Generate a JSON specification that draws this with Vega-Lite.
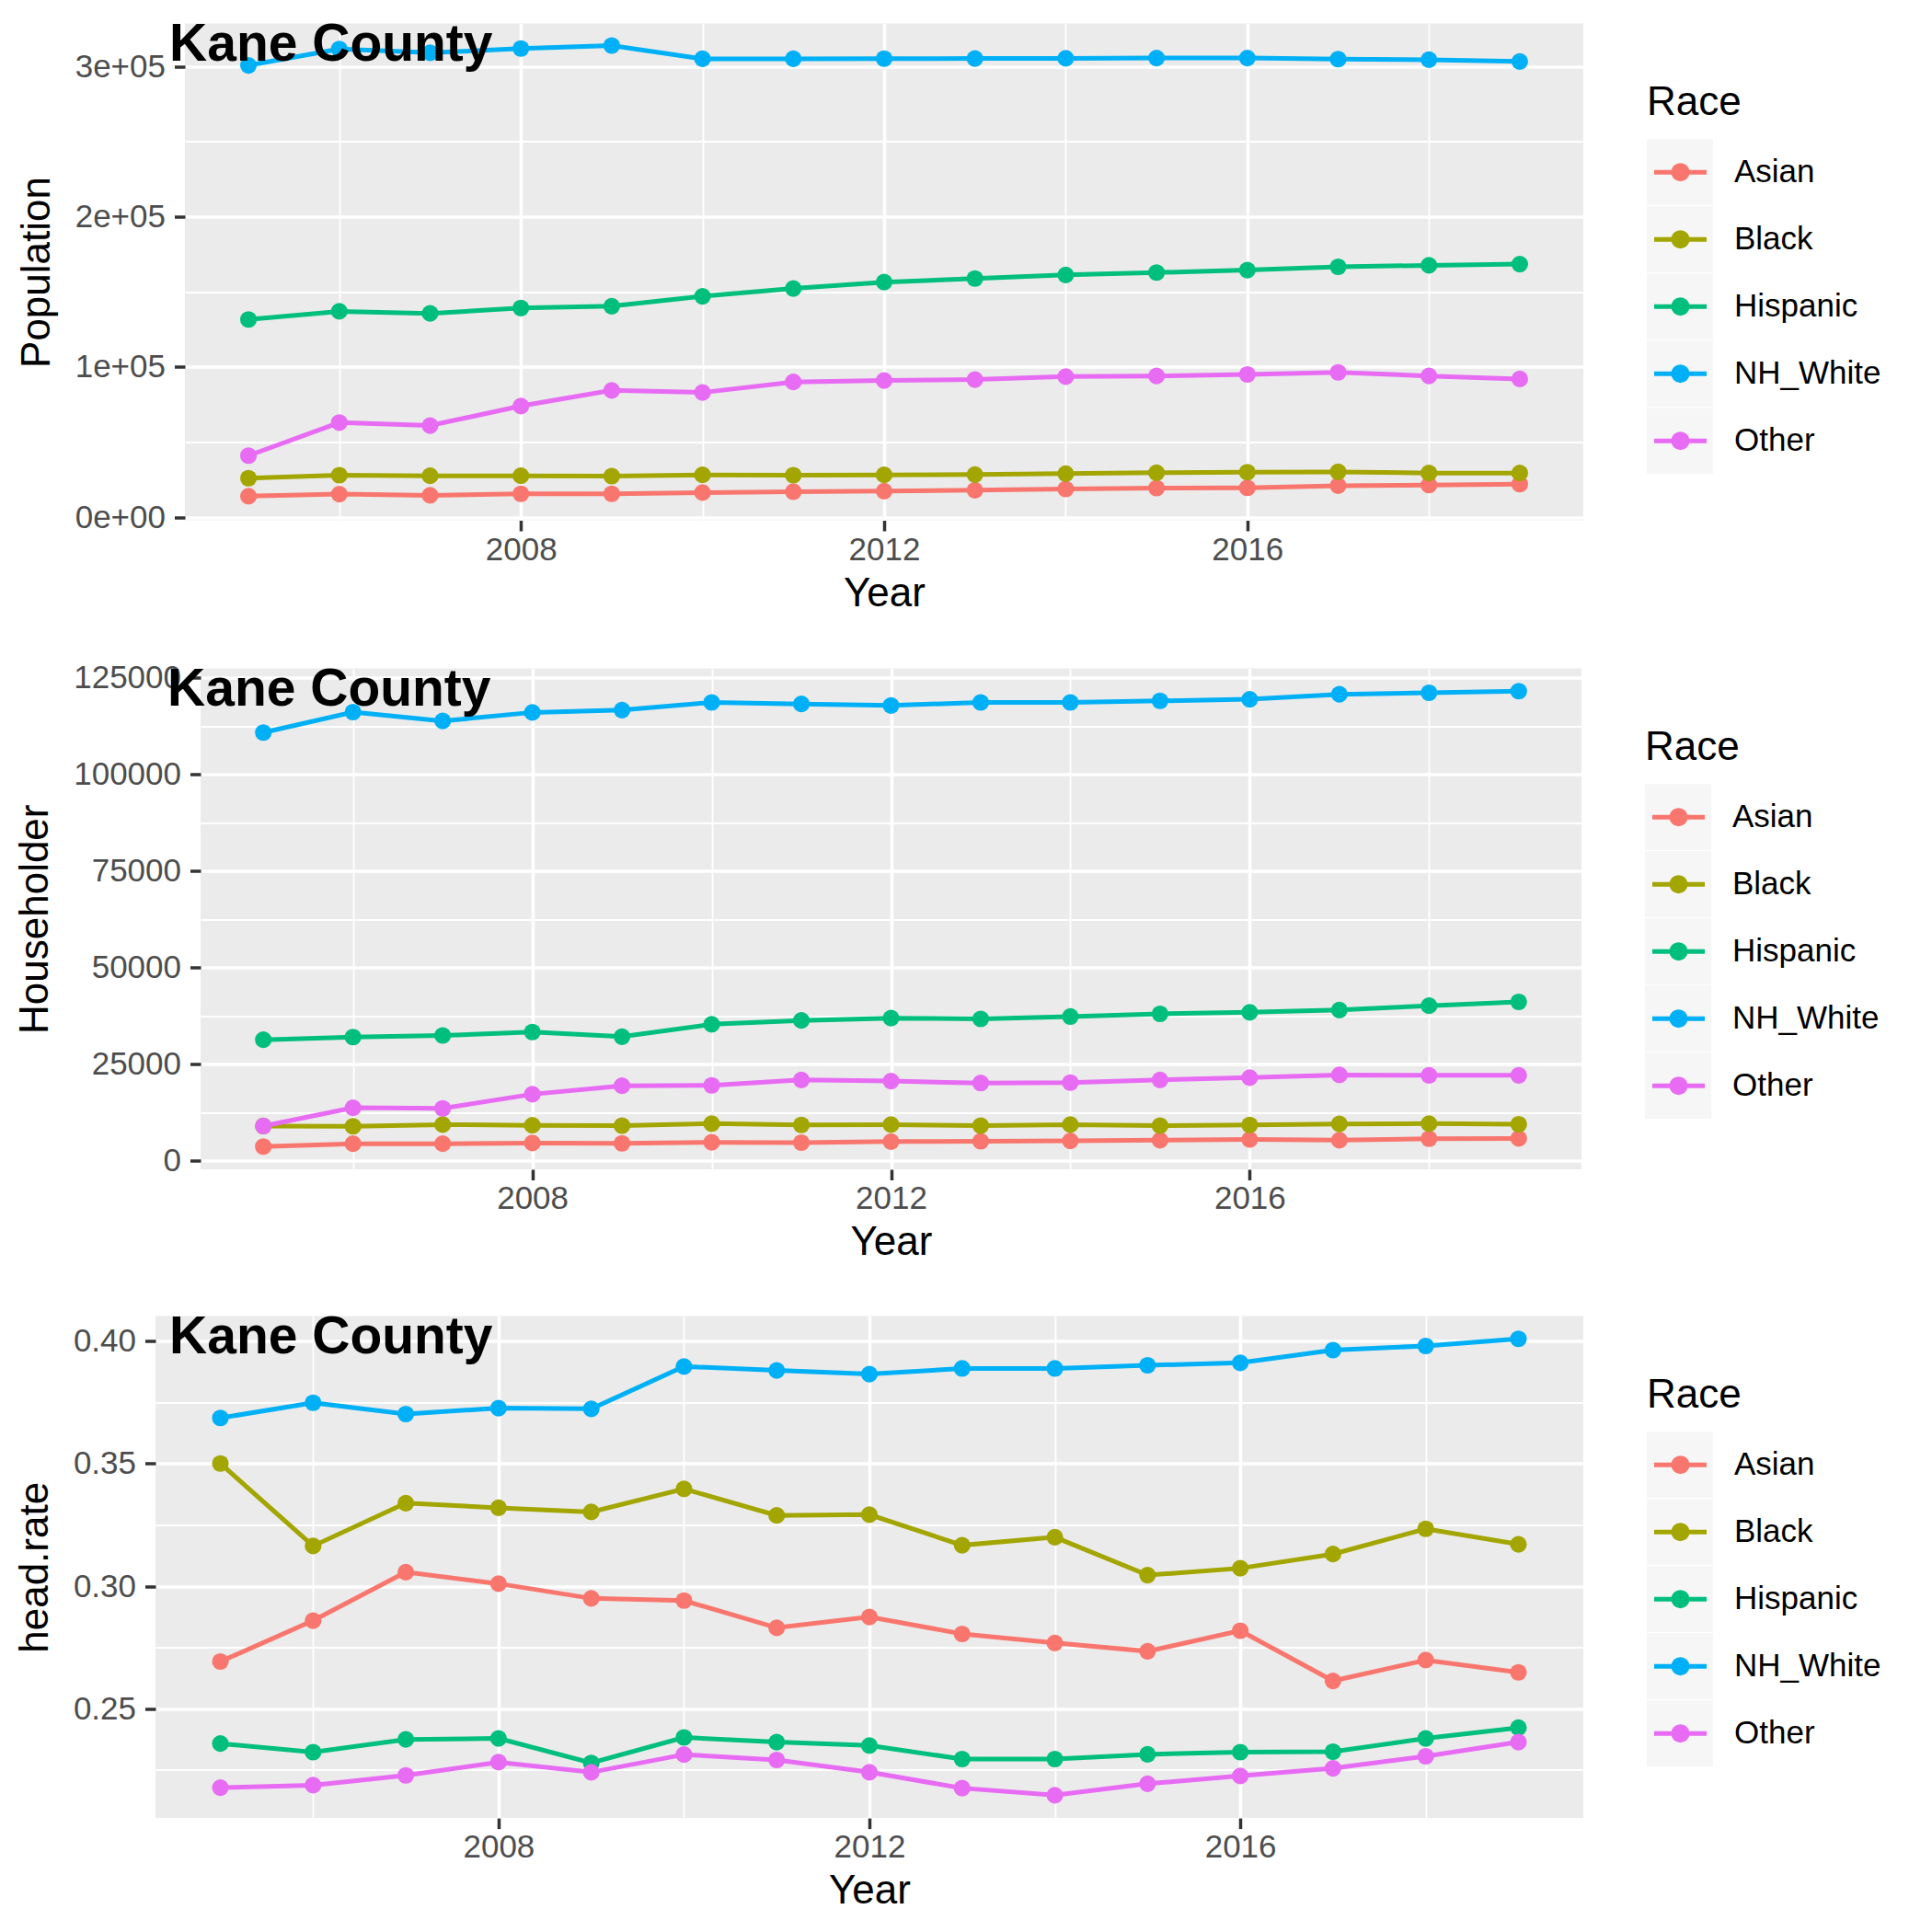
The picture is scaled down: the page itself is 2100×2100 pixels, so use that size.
{
  "$schema": "https://vega.github.io/schema/vega-lite/v6.json",
  "background": "white",
  "padding": {"left": 0, "top": 19.5, "right": 0, "bottom": 0},
  "spacing": 52,
  "datasets": {
    "kane": [
      {"Year": 2005, "Race": "Asian", "Population": 14000, "Householder": 3660, "HeadRate": 0.2692},
      {"Year": 2006, "Race": "Asian", "Population": 15400, "Householder": 4400, "HeadRate": 0.2859},
      {"Year": 2007, "Race": "Asian", "Population": 14600, "Householder": 4400, "HeadRate": 0.3057},
      {"Year": 2008, "Race": "Asian", "Population": 15600, "Householder": 4580, "HeadRate": 0.3010},
      {"Year": 2009, "Race": "Asian", "Population": 15600, "Householder": 4490, "HeadRate": 0.2950},
      {"Year": 2010, "Race": "Asian", "Population": 16400, "Householder": 4760, "HeadRate": 0.2941},
      {"Year": 2011, "Race": "Asian", "Population": 17000, "Householder": 4670, "HeadRate": 0.2830},
      {"Year": 2012, "Race": "Asian", "Population": 17400, "Householder": 4950, "HeadRate": 0.2874},
      {"Year": 2013, "Race": "Asian", "Population": 18000, "Householder": 5040, "HeadRate": 0.2805},
      {"Year": 2014, "Race": "Asian", "Population": 18800, "Householder": 5130, "HeadRate": 0.2768},
      {"Year": 2015, "Race": "Asian", "Population": 19400, "Householder": 5310, "HeadRate": 0.2734},
      {"Year": 2016, "Race": "Asian", "Population": 19600, "Householder": 5490, "HeadRate": 0.2818},
      {"Year": 2017, "Race": "Asian", "Population": 21000, "Householder": 5310, "HeadRate": 0.2613},
      {"Year": 2018, "Race": "Asian", "Population": 21400, "Householder": 5680, "HeadRate": 0.2698},
      {"Year": 2019, "Race": "Asian", "Population": 22000, "Householder": 5770, "HeadRate": 0.2648},
      {"Year": 2005, "Race": "Black", "Population": 26000, "Householder": 8970, "HeadRate": 0.3501},
      {"Year": 2006, "Race": "Black", "Population": 28000, "Householder": 8900, "HeadRate": 0.3164},
      {"Year": 2007, "Race": "Black", "Population": 27600, "Householder": 9340, "HeadRate": 0.3339},
      {"Year": 2008, "Race": "Black", "Population": 27600, "Householder": 9160, "HeadRate": 0.3320},
      {"Year": 2009, "Race": "Black", "Population": 27400, "Householder": 9070, "HeadRate": 0.3303},
      {"Year": 2010, "Race": "Black", "Population": 28200, "Householder": 9600, "HeadRate": 0.3397},
      {"Year": 2011, "Race": "Black", "Population": 28000, "Householder": 9250, "HeadRate": 0.3289},
      {"Year": 2012, "Race": "Black", "Population": 28200, "Householder": 9340, "HeadRate": 0.3292},
      {"Year": 2013, "Race": "Black", "Population": 28400, "Householder": 9070, "HeadRate": 0.3167},
      {"Year": 2014, "Race": "Black", "Population": 29000, "Householder": 9340, "HeadRate": 0.3200},
      {"Year": 2015, "Race": "Black", "Population": 29600, "Householder": 9070, "HeadRate": 0.3045},
      {"Year": 2016, "Race": "Black", "Population": 30000, "Householder": 9250, "HeadRate": 0.3073},
      {"Year": 2017, "Race": "Black", "Population": 30200, "Householder": 9520, "HeadRate": 0.3131},
      {"Year": 2018, "Race": "Black", "Population": 29400, "Householder": 9600, "HeadRate": 0.3234},
      {"Year": 2019, "Race": "Black", "Population": 29400, "Householder": 9430, "HeadRate": 0.3171},
      {"Year": 2005, "Race": "Hispanic", "Population": 131600, "Householder": 31300, "HeadRate": 0.2357},
      {"Year": 2006, "Race": "Hispanic", "Population": 137000, "Householder": 32000, "HeadRate": 0.2322},
      {"Year": 2007, "Race": "Hispanic", "Population": 135600, "Householder": 32400, "HeadRate": 0.2374},
      {"Year": 2008, "Race": "Hispanic", "Population": 139200, "Householder": 33300, "HeadRate": 0.2378},
      {"Year": 2009, "Race": "Hispanic", "Population": 140400, "Householder": 32100, "HeadRate": 0.2278},
      {"Year": 2010, "Race": "Hispanic", "Population": 147000, "Householder": 35300, "HeadRate": 0.2382},
      {"Year": 2011, "Race": "Hispanic", "Population": 152200, "Householder": 36300, "HeadRate": 0.2363},
      {"Year": 2012, "Race": "Hispanic", "Population": 156400, "Householder": 36900, "HeadRate": 0.2349},
      {"Year": 2013, "Race": "Hispanic", "Population": 158800, "Householder": 36700, "HeadRate": 0.2294},
      {"Year": 2014, "Race": "Hispanic", "Population": 161200, "Householder": 37300, "HeadRate": 0.2294},
      {"Year": 2015, "Race": "Hispanic", "Population": 162800, "Householder": 38000, "HeadRate": 0.2313},
      {"Year": 2016, "Race": "Hispanic", "Population": 164400, "Householder": 38400, "HeadRate": 0.2322},
      {"Year": 2017, "Race": "Hispanic", "Population": 166600, "Householder": 39000, "HeadRate": 0.2324},
      {"Year": 2018, "Race": "Hispanic", "Population": 167600, "Householder": 40100, "HeadRate": 0.2378},
      {"Year": 2019, "Race": "Hispanic", "Population": 168400, "Householder": 41100, "HeadRate": 0.2422},
      {"Year": 2005, "Race": "NH_White", "Population": 300600, "Householder": 110800, "HeadRate": 0.3687},
      {"Year": 2006, "Race": "NH_White", "Population": 311500, "Householder": 116100, "HeadRate": 0.3749},
      {"Year": 2007, "Race": "NH_White", "Population": 309000, "Householder": 113800, "HeadRate": 0.3703},
      {"Year": 2008, "Race": "NH_White", "Population": 311800, "Householder": 116000, "HeadRate": 0.3727},
      {"Year": 2009, "Race": "NH_White", "Population": 313800, "Householder": 116600, "HeadRate": 0.3724},
      {"Year": 2010, "Race": "NH_White", "Population": 305000, "Householder": 118600, "HeadRate": 0.3897},
      {"Year": 2011, "Race": "NH_White", "Population": 305000, "Householder": 118200, "HeadRate": 0.3881},
      {"Year": 2012, "Race": "NH_White", "Population": 305100, "Householder": 117800, "HeadRate": 0.3866},
      {"Year": 2013, "Race": "NH_White", "Population": 305200, "Householder": 118600, "HeadRate": 0.3889},
      {"Year": 2014, "Race": "NH_White", "Population": 305300, "Householder": 118600, "HeadRate": 0.3889},
      {"Year": 2015, "Race": "NH_White", "Population": 305500, "Householder": 119000, "HeadRate": 0.3902},
      {"Year": 2016, "Race": "NH_White", "Population": 305500, "Householder": 119400, "HeadRate": 0.3912},
      {"Year": 2017, "Race": "NH_White", "Population": 304800, "Householder": 120700, "HeadRate": 0.3964},
      {"Year": 2018, "Race": "NH_White", "Population": 304400, "Householder": 121100, "HeadRate": 0.3981},
      {"Year": 2019, "Race": "NH_White", "Population": 303200, "Householder": 121500, "HeadRate": 0.4010},
      {"Year": 2005, "Race": "Other", "Population": 41000, "Householder": 8970, "HeadRate": 0.2177},
      {"Year": 2006, "Race": "Other", "Population": 63000, "Householder": 13700, "HeadRate": 0.2187},
      {"Year": 2007, "Race": "Other", "Population": 61000, "Householder": 13550, "HeadRate": 0.2227},
      {"Year": 2008, "Race": "Other", "Population": 74000, "Householder": 17200, "HeadRate": 0.2281},
      {"Year": 2009, "Race": "Other", "Population": 84400, "Householder": 19400, "HeadRate": 0.2240},
      {"Year": 2010, "Race": "Other", "Population": 83000, "Householder": 19500, "HeadRate": 0.2312},
      {"Year": 2011, "Race": "Other", "Population": 90000, "Householder": 20900, "HeadRate": 0.2290},
      {"Year": 2012, "Race": "Other", "Population": 91000, "Householder": 20600, "HeadRate": 0.2240},
      {"Year": 2013, "Race": "Other", "Population": 91600, "Householder": 20100, "HeadRate": 0.2175},
      {"Year": 2014, "Race": "Other", "Population": 93600, "Householder": 20200, "HeadRate": 0.2146},
      {"Year": 2015, "Race": "Other", "Population": 94000, "Householder": 20900, "HeadRate": 0.2193},
      {"Year": 2016, "Race": "Other", "Population": 95000, "Householder": 21500, "HeadRate": 0.2225},
      {"Year": 2017, "Race": "Other", "Population": 96400, "Householder": 22200, "HeadRate": 0.2256},
      {"Year": 2018, "Race": "Other", "Population": 94000, "Householder": 22100, "HeadRate": 0.2305},
      {"Year": 2019, "Race": "Other", "Population": 92000, "Householder": 22100, "HeadRate": 0.2363}
    ]
  },
  "config": {
    "font": "Liberation Sans",
    "view": {"fill": "#EBEBEB", "stroke": null},
    "axis": {
      "domain": false,
      "labelFont": "Liberation Sans",
      "labelFontSize": 35,
      "labelColor": "#4D4D4D",
      "titleFont": "Liberation Sans",
      "titleFontSize": 44,
      "titleFontWeight": "normal",
      "titleColor": "black",
      "tickColor": "#333333",
      "tickWidth": 3.5,
      "tickSize": 11.5,
      "gridColor": "white",
      "labelFlush": false,
      "labelOverlap": false
    },
    "axisX": {"labelPadding": 3, "titlePadding": 8},
    "axisY": {"labelPadding": 10, "titlePadding": 19},
    "legend": {
      "orient": "none",
      "padding": 0,
      "titleFont": "Liberation Sans",
      "titleFontSize": 44,
      "titleFontWeight": "normal",
      "titleColor": "black",
      "labelFont": "Liberation Sans",
      "labelFontSize": 35,
      "labelColor": "black",
      "clipHeight": 72.3,
      "rowPadding": 0,
      "titlePadding": 17.5
    }
  },
  "resolve": {
    "scale": {"color": "independent", "shape": "independent", "x": "independent", "y": "independent"},
    "legend": {"color": "independent", "shape": "independent"}
  },
  "vconcat": [
    {
      "spacing": 0,
      "resolve": {"scale": {"color": "independent", "shape": "independent", "x": "independent", "y": "independent"}, "legend": {"color": "independent", "shape": "independent"}},
      "hconcat": [
        {"width": 18, "height": 1, "view": {"fill": "transparent", "stroke": null}, "data": {"values": []}, "mark": "point"},
        {
          "width": 1520,
          "height": 540,
          "layer": [
            {"data": {"name": "kane"},
              "mark": {"type": "point", "filled": true, "size": 10, "color": "#F2F2F2", "strokeWidth": 0},
              "encoding": {
                "x": {"field": "Year", "type": "quantitative", "scale": {"domain": [2004.3, 2019.7], "nice": false, "zero": false},
                  "axis": {"title": "Year", "values": [2006, 2008, 2010, 2012, 2014, 2016, 2018], "format": "d",
                    "labelExpr": "datum.value % 4 === 0 ? datum.label : ''",
                    "gridWidth": {"condition": {"test": "datum.value % 4 === 0", "value": 3.5}, "value": 1.8},
                    "tickOpacity": {"condition": {"test": "datum.value % 4 === 0", "value": 1}, "value": 0}}},
                "y": {"field": "Population", "type": "quantitative", "scale": {"domain": [-2000, 328500], "nice": false, "zero": false},
                  "axis": {"title": "Population", "values": [0, 50000, 100000, 150000, 200000, 250000, 300000],
                    "labelExpr": "datum.value === 0 ? '0e+00' : (datum.value % 100000 === 0 ? (datum.value / 100000) + 'e+05' : '')",
                    "gridWidth": {"condition": {"test": "datum.value % 100000 === 0", "value": 3.5}, "value": 1.8},
                    "tickOpacity": {"condition": {"test": "datum.value % 100000 === 0", "value": 1}, "value": 0}}},
                "shape": {"field": "Race", "type": "nominal", "scale": {"range": ["square"]},
                  "legend": {"title": "Race", "legendX": 1589, "legendY": 64, "zindex": 1, "symbolSize": 5184, "symbolStrokeWidth": 0, "symbolFillColor": "#F2F2F2", "labelColor": "rgba(0,0,0,0)", "titleColor": "rgba(0,0,0,0)", "labelOffset": 22}}}},
            {"data": {"name": "kane"},
              "mark": {"type": "line", "strokeWidth": 5},
              "encoding": {
                "x": {"field": "Year", "type": "quantitative"},
                "y": {"field": "Population", "type": "quantitative"},
                "color": {"field": "Race", "type": "nominal",
                  "scale": {"domain": ["Asian", "Black", "Hispanic", "NH_White", "Other"], "range": ["#F8766D", "#A3A500", "#00BF7D", "#00B0F6", "#E76BF3"]},
                  "legend": {"title": "Race", "legendX": 1589, "legendY": 64, "zindex": 2, "labelOffset": 22,
                    "symbolType": "M-0.847,0L0.847,0M-0.223,0A0.223,0.223,0,1,0,0.223,0A0.223,0.223,0,1,0,-0.223,0ZM-0.074,0A0.074,0.074,0,1,0,0.074,0A0.074,0.074,0,1,0,-0.074,0Z",
                    "symbolSize": 4529, "symbolStrokeWidth": 5}}}},
            {"data": {"name": "kane"},
              "mark": {"type": "point", "filled": true, "size": 330, "opacity": 1, "strokeWidth": 0},
              "encoding": {
                "x": {"field": "Year", "type": "quantitative"},
                "y": {"field": "Population", "type": "quantitative"},
                "color": {"field": "Race", "type": "nominal",
                  "scale": {"domain": ["Asian", "Black", "Hispanic", "NH_White", "Other"], "range": ["#F8766D", "#A3A500", "#00BF7D", "#00B0F6", "#E76BF3"]}}}},
            {"data": {"values": [{"t": "Kane County"}]},
              "mark": {"type": "text", "fontSize": 57, "fontWeight": "bold", "fill": "black", "align": "left", "baseline": "alphabetic"},
              "encoding": {"x": {"datum": 2004.128, "type": "quantitative"}, "y": {"datum": 303712, "type": "quantitative"}, "text": {"field": "t", "type": "nominal"}}}
          ]
        }
      ]
    },
    {
      "spacing": 0,
      "resolve": {"scale": {"color": "independent", "shape": "independent", "x": "independent", "y": "independent"}, "legend": {"color": "independent", "shape": "independent"}},
      "hconcat": [
        {"width": 16, "height": 1, "view": {"fill": "transparent", "stroke": null}, "data": {"values": []}, "mark": "point"},
        {
          "width": 1501,
          "height": 544.5,
          "layer": [
            {"data": {"name": "kane"},
              "mark": {"type": "point", "filled": true, "size": 10, "color": "#F2F2F2", "strokeWidth": 0},
              "encoding": {
                "x": {"field": "Year", "type": "quantitative", "scale": {"domain": [2004.3, 2019.7], "nice": false, "zero": false},
                  "axis": {"title": "Year", "values": [2006, 2008, 2010, 2012, 2014, 2016, 2018], "format": "d",
                    "labelExpr": "datum.value % 4 === 0 ? datum.label : ''",
                    "gridWidth": {"condition": {"test": "datum.value % 4 === 0", "value": 3.5}, "value": 1.8},
                    "tickOpacity": {"condition": {"test": "datum.value % 4 === 0", "value": 1}, "value": 0}}},
                "y": {"field": "Householder", "type": "quantitative", "scale": {"domain": [-2230, 127400], "nice": false, "zero": false},
                  "axis": {"title": "Householder", "values": [0, 12500, 25000, 37500, 50000, 62500, 75000, 87500, 100000, 112500, 125000], "format": "d",
                    "labelExpr": "datum.value % 25000 === 0 ? datum.label : ''",
                    "gridWidth": {"condition": {"test": "datum.value % 25000 === 0", "value": 3.5}, "value": 1.8},
                    "tickOpacity": {"condition": {"test": "datum.value % 25000 === 0", "value": 1}, "value": 0}}},
                "shape": {"field": "Race", "type": "nominal", "scale": {"range": ["square"]},
                  "legend": {"title": "Race", "legendX": 1570, "legendY": 64, "zindex": 1, "symbolSize": 5184, "symbolStrokeWidth": 0, "symbolFillColor": "#F2F2F2", "labelColor": "rgba(0,0,0,0)", "titleColor": "rgba(0,0,0,0)", "labelOffset": 22}}}},
            {"data": {"name": "kane"},
              "mark": {"type": "line", "strokeWidth": 5},
              "encoding": {
                "x": {"field": "Year", "type": "quantitative"},
                "y": {"field": "Householder", "type": "quantitative"},
                "color": {"field": "Race", "type": "nominal",
                  "scale": {"domain": ["Asian", "Black", "Hispanic", "NH_White", "Other"], "range": ["#F8766D", "#A3A500", "#00BF7D", "#00B0F6", "#E76BF3"]},
                  "legend": {"title": "Race", "legendX": 1570, "legendY": 64, "zindex": 2, "labelOffset": 22,
                    "symbolType": "M-0.847,0L0.847,0M-0.223,0A0.223,0.223,0,1,0,0.223,0A0.223,0.223,0,1,0,-0.223,0ZM-0.074,0A0.074,0.074,0,1,0,0.074,0A0.074,0.074,0,1,0,-0.074,0Z",
                    "symbolSize": 4529, "symbolStrokeWidth": 5}}}},
            {"data": {"name": "kane"},
              "mark": {"type": "point", "filled": true, "size": 330, "opacity": 1, "strokeWidth": 0},
              "encoding": {
                "x": {"field": "Year", "type": "quantitative"},
                "y": {"field": "Householder", "type": "quantitative"},
                "color": {"field": "Race", "type": "nominal",
                  "scale": {"domain": ["Asian", "Black", "Hispanic", "NH_White", "Other"], "range": ["#F8766D", "#A3A500", "#00BF7D", "#00B0F6", "#E76BF3"]}}}},
            {"data": {"values": [{"t": "Kane County"}]},
              "mark": {"type": "text", "fontSize": 57, "fontWeight": "bold", "fill": "black", "align": "left", "baseline": "alphabetic"},
              "encoding": {"x": {"datum": 2003.931, "type": "quantitative"}, "y": {"datum": 117734, "type": "quantitative"}, "text": {"field": "t", "type": "nominal"}}}
          ]
        }
      ]
    },
    {
      "spacing": 0,
      "resolve": {"scale": {"color": "independent", "shape": "independent", "x": "independent", "y": "independent"}, "legend": {"color": "independent", "shape": "independent"}},
      "hconcat": [
        {"width": 16, "height": 1, "view": {"fill": "transparent", "stroke": null}, "data": {"values": []}, "mark": "point"},
        {
          "width": 1552,
          "height": 545.6,
          "layer": [
            {"data": {"name": "kane"},
              "mark": {"type": "point", "filled": true, "size": 10, "color": "#F2F2F2", "strokeWidth": 0},
              "encoding": {
                "x": {"field": "Year", "type": "quantitative", "scale": {"domain": [2004.3, 2019.7], "nice": false, "zero": false},
                  "axis": {"title": "Year", "values": [2006, 2008, 2010, 2012, 2014, 2016, 2018], "format": "d",
                    "labelExpr": "datum.value % 4 === 0 ? datum.label : ''",
                    "gridWidth": {"condition": {"test": "datum.value % 4 === 0", "value": 3.5}, "value": 1.8},
                    "tickOpacity": {"condition": {"test": "datum.value % 4 === 0", "value": 1}, "value": 0}}},
                "y": {"field": "HeadRate", "type": "quantitative", "scale": {"domain": [0.2053, 0.4103], "nice": false, "zero": false},
                  "axis": {"title": "head.rate", "values": [0.225, 0.25, 0.275, 0.3, 0.325, 0.35, 0.375, 0.4],
                    "labelExpr": "round(datum.value * 1000) % 50 === 0 ? format(datum.value, '.2f') : ''",
                    "gridWidth": {"condition": {"test": "round(datum.value * 1000) % 50 === 0", "value": 3.5}, "value": 1.8},
                    "tickOpacity": {"condition": {"test": "round(datum.value * 1000) % 50 === 0", "value": 1}, "value": 0}}},
                "shape": {"field": "Race", "type": "nominal", "scale": {"range": ["square"]},
                  "legend": {"title": "Race", "legendX": 1621, "legendY": 64, "zindex": 1, "symbolSize": 5184, "symbolStrokeWidth": 0, "symbolFillColor": "#F2F2F2", "labelColor": "rgba(0,0,0,0)", "titleColor": "rgba(0,0,0,0)", "labelOffset": 22}}}},
            {"data": {"name": "kane"},
              "mark": {"type": "line", "strokeWidth": 5},
              "encoding": {
                "x": {"field": "Year", "type": "quantitative"},
                "y": {"field": "HeadRate", "type": "quantitative"},
                "color": {"field": "Race", "type": "nominal",
                  "scale": {"domain": ["Asian", "Black", "Hispanic", "NH_White", "Other"], "range": ["#F8766D", "#A3A500", "#00BF7D", "#00B0F6", "#E76BF3"]},
                  "legend": {"title": "Race", "legendX": 1621, "legendY": 64, "zindex": 2, "labelOffset": 22,
                    "symbolType": "M-0.847,0L0.847,0M-0.223,0A0.223,0.223,0,1,0,0.223,0A0.223,0.223,0,1,0,-0.223,0ZM-0.074,0A0.074,0.074,0,1,0,0.074,0A0.074,0.074,0,1,0,-0.074,0Z",
                    "symbolSize": 4529, "symbolStrokeWidth": 5}}}},
            {"data": {"name": "kane"},
              "mark": {"type": "point", "filled": true, "size": 330, "opacity": 1, "strokeWidth": 0},
              "encoding": {
                "x": {"field": "Year", "type": "quantitative"},
                "y": {"field": "HeadRate", "type": "quantitative"},
                "color": {"field": "Race", "type": "nominal",
                  "scale": {"domain": ["Asian", "Black", "Hispanic", "NH_White", "Other"], "range": ["#F8766D", "#A3A500", "#00BF7D", "#00B0F6", "#E76BF3"]}}}},
            {"data": {"values": [{"t": "Kane County"}]},
              "mark": {"type": "text", "fontSize": 57, "fontWeight": "bold", "fill": "black", "align": "left", "baseline": "alphabetic"},
              "encoding": {"x": {"datum": 2004.449, "type": "quantitative"}, "y": {"datum": 0.39504, "type": "quantitative"}, "text": {"field": "t", "type": "nominal"}}}
          ]
        }
      ]
    }
  ]
}
